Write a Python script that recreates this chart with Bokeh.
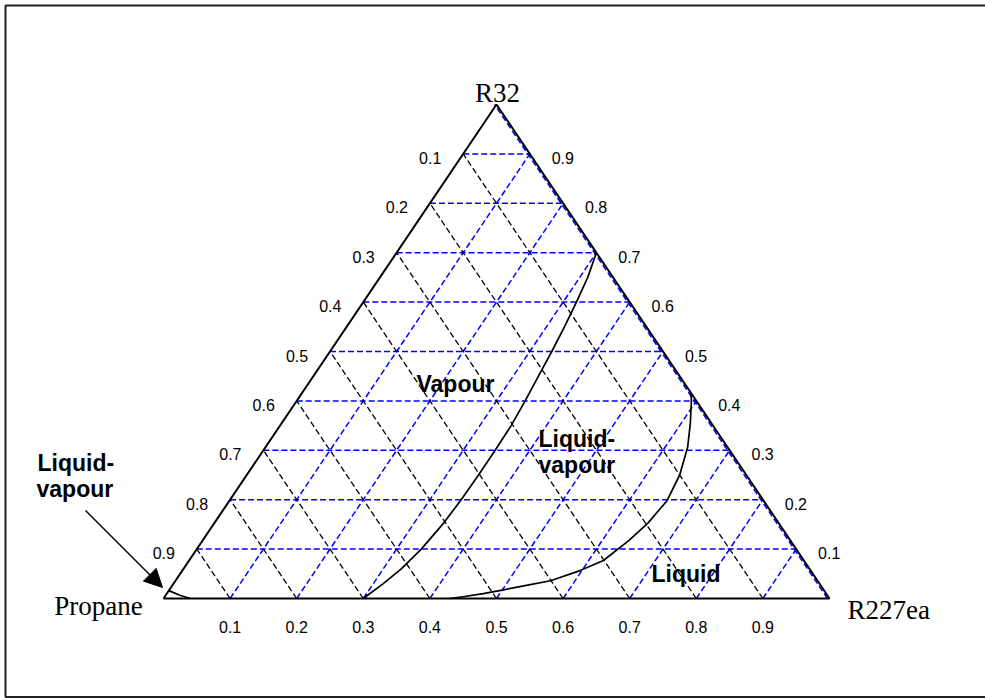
from bokeh.plotting import figure
from bokeh.models import Range1d, Arrow, NormalHead
from bokeh.core.properties import value
from bokeh.embed import file_html
from bokeh.resources import INLINE

# ---------------- data ----------------
vertex_names = ["Propane", "R227ea", "R32"]
ticks = [0.1, 0.2, 0.3, 0.4, 0.5, 0.6, 0.7, 0.8, 0.9]
tick_labels = ["0.1", "0.2", "0.3", "0.4", "0.5", "0.6", "0.7", "0.8", "0.9"]

# dew curve (vapour / liquid-vapour boundary): mole fractions of R32 and R227ea
dew_r32 = [0.000, 0.030, 0.060, 0.100, 0.150, 0.200, 0.250, 0.300, 0.350,
           0.400, 0.450, 0.500, 0.550, 0.600, 0.650, 0.700]
dew_r227 = [0.300, 0.315, 0.327, 0.337, 0.344, 0.347, 0.348, 0.348, 0.347,
            0.343, 0.338, 0.333, 0.327, 0.320, 0.312, 0.300]

# bubble curve (liquid / liquid-vapour boundary)
bub_r32 = [0.000, 0.004, 0.010, 0.017, 0.026, 0.036, 0.057, 0.077, 0.117,
           0.152, 0.198, 0.250, 0.306, 0.354, 0.395, 0.415]
bub_r227 = [0.430, 0.450, 0.475, 0.500, 0.530, 0.563, 0.598, 0.622, 0.640,
            0.651, 0.657, 0.650, 0.634, 0.614, 0.595, 0.585]

# small liquid-vapour region near pure propane
lv_r32 = [0.016, 0.006, 0.000]
lv_r227 = [0.000, 0.0225, 0.0405]

region_labels = ["Vapour", "Liquid-", "vapour", "Liquid", "Liquid-", "vapour"]

# ---------------- layout ----------------
W, H = 985, 698
PXX, PXY = 666.0, 494.0          # pixels per unit of the triangle base / height
OX, OY = 163.0, 598.0            # screen position of the Propane vertex


def P(px, py):
    return (px - OX) / PXX, (OY - py) / PXY


def tern(c, r):
    # c = R227ea fraction, r = R32 fraction
    return c + r / 2.0, r


x0, y0 = P(0, H)
x1, y1 = P(W, 0)

p = figure(width=W, height=H, output_backend="svg", toolbar_location=None,
           x_range=Range1d(x0, x1), y_range=Range1d(y0, y1), min_border=0)
p.axis.visible = False
p.grid.visible = False
p.outline_line_color = None
p.border_fill_color = None
p.background_fill_color = "white"

# outer frame: a box whose right side lies outside the picture
fl, ft = P(5, 5)
fr, fb = P(W + 60, 696.5)
p.quad(left=[fl], right=[fr], top=[ft], bottom=[fb], fill_color=None,
       line_color="#222222", line_width=2)

BLUE = "#0000ff"
DASH = "6 3"

# horizontal blue lines (constant R32)
for r in ticks:
    xa, ya = tern(0.0, r)
    xb, yb = tern(1.0 - r, r)
    p.line([xa, xb], [ya, yb], line_color=BLUE, line_dash=DASH, line_width=1.5)

# blue lines of constant R227ea
for c in ticks:
    xa, ya = tern(c, 0.0)
    xb, yb = tern(c, 1.0 - c)
    p.line([xa, xb], [ya, yb], line_color=BLUE, line_dash=DASH, line_width=1.5)

# blue dashed line along the right side, just inside
dxs = 2.0 / PXX
xa, ya = tern(1.0, 0.0)
xb, yb = tern(0.0, 1.0)
p.line([xa - dxs, xb - dxs], [ya, yb], line_color=BLUE, line_dash=DASH, line_width=1.5)

# black lines of constant propane
for a in ticks:
    xa, ya = tern(1.0 - a, 0.0)
    xb, yb = tern(0.0, 1.0 - a)
    p.line([xa, xb], [ya, yb], line_color="black", line_dash=DASH, line_width=1.3)

# triangle
tx, ty = zip(*[tern(0, 0), tern(1, 0), tern(0, 1), tern(0, 0)])
p.line(list(tx), list(ty), line_color="black", line_width=2)

# phase boundaries
for rr, cc in [(dew_r32, dew_r227), (bub_r32, bub_r227), (lv_r32, lv_r227)]:
    pts = [tern(c, r) for r, c in zip(rr, cc)]
    p.line([q[0] for q in pts], [q[1] for q in pts], line_color="black", line_width=1.7)

# tick labels
sans = value("Liberation Sans")
serif = value("Liberation Serif")
bx, by, rx, ry, lx, ly = [], [], [], [], [], []
for t in ticks:
    xb_, yb_ = tern(t, 0.0)
    bx.append(xb_)
    by.append(yb_ - 28.5 / PXY)
    xr_, yr_ = tern(1.0 - t, t)
    rx.append(xr_ + 33.0 / PXX)
    ry.append(yr_ - 4.0 / PXY)
    xl_, yl_ = tern(0.0, 1.0 - t)
    lx.append(xl_ - 33.0 / PXX)
    ly.append(yl_ - 4.0 / PXY)

for xs, ys in [(bx, by), (rx, ry), (lx, ly)]:
    p.text(xs, ys, text=tick_labels, text_font=sans, text_font_size="16px",
           text_align="center", text_baseline="middle", text_color="black")

# vertex names
vx, vy = P(98, 605)
p.text([vx], [vy], text=[vertex_names[0]], text_font=serif, text_font_size="27px",
       text_align="center", text_baseline="alphabetic", text_color="black")
vx, vy = P(847, 609)
p.text([vx], [vy], text=[vertex_names[1]], text_font=serif, text_font_size="27px",
       text_align="left", text_baseline="alphabetic", text_color="black")
vx, vy = P(497, 92)
p.text([vx], [vy], text=[vertex_names[2]], text_font=serif, text_font_size="27px",
       text_align="center", text_baseline="alphabetic", text_color="black")

# region labels
lab_pos = [P(416, 383), P(538, 438), P(538, 464), P(651, 573), P(37, 462), P(36, 488)]
p.text([q[0] for q in lab_pos], [q[1] for q in lab_pos], text=region_labels,
       text_font=sans, text_font_size="23px", text_font_style="bold",
       text_align="left", text_baseline="alphabetic", text_color="black")

# arrow
ax0, ay0 = P(85, 510)
ax1, ay1 = P(162, 587)
p.add_layout(Arrow(end=NormalHead(size=18, fill_color="black", line_color="black"),
                   x_start=ax0, y_start=ay0, x_end=ax1, y_end=ay1,
                   line_color="black", line_width=1.5))

open("out.html", "w").write(file_html(p, INLINE))
